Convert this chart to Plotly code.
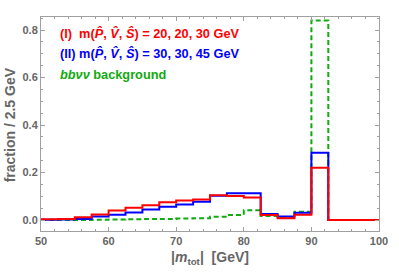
import plotly.graph_objects as go

# bin edges 50..100 in 2.5 GeV steps
bin_start = 50.0
bin_width = 2.5
n_bins = 20

red_I = [0.003, 0.005, 0.012, 0.023, 0.040, 0.052, 0.062, 0.075, 0.082, 0.087,
         0.104, 0.101, 0.095, 0.021, 0.008, 0.022, 0.220, 0.0, 0.0, 0.0]
blue_II = [0.001, 0.002, 0.004, 0.015, 0.022, 0.032, 0.044, 0.056, 0.066, 0.077,
           0.102, 0.113, 0.113, 0.026, 0.015, 0.031, 0.283, 0.0, 0.0, 0.0]
green_bkg = [0.0, 0.0, 0.0, 0.001, 0.002, 0.003, 0.004, 0.005, 0.007, 0.008,
             0.014, 0.021, 0.041, 0.017, 0.012, 0.035, 0.840, 0.0, 0.0, 0.0]

x_ticks = [50, 60, 70, 80, 90, 100]
y_ticks = [0.0, 0.2, 0.4, 0.6, 0.8]

edges = [bin_start + i * bin_width for i in range(n_bins + 1)]

def step(vals):
    return edges, list(vals) + [vals[-1]]

RED = "#FF0000"
BLUE = "#0000FF"
GREEN = "#11AA11"
GRAY = "#666666"
FONT = "Liberation Sans"

fig = go.Figure()
for vals, col, dash in [(green_bkg, GREEN, "5px,3px"), (blue_II, BLUE, "solid"), (red_I, RED, "solid")]:
    xs, ys = step(vals)
    fig.add_trace(go.Scatter(x=xs, y=ys, mode="lines", line=dict(color=col, width=2, dash=dash, shape="hv"),
                             showlegend=False, hoverinfo="skip"))

axis_common = dict(showgrid=False, zeroline=False, showline=True, linecolor="#A0A0A0", linewidth=1,
                   mirror="ticks", ticks="inside", tickcolor="#A0A0A0", ticklen=4, tickwidth=1,
                   tickfont=dict(family=FONT, size=11, color=GRAY, weight="bold"))

fig.update_xaxes(range=[50, 100], tickvals=x_ticks, ticktext=[str(v) for v in x_ticks],
                 minor=dict(dtick=2, ticks="inside", ticklen=2, tickcolor="#A0A0A0"), **axis_common)
fig.update_yaxes(range=[-0.046, 0.855], tickvals=y_ticks, ticktext=["%.1f" % v for v in y_ticks],
                 minor=dict(dtick=0.05, ticks="inside", ticklen=2, tickcolor="#A0A0A0"), **axis_common)

annots = [
    dict(x=0.05, y=33, text="(I)\u00a0\u00a0m(<i>P\u0302</i>, <i>V\u0302</i>, <i>S\u0302</i>) = 20, 20, 30 GeV", color=RED),
    dict(x=0.05, y=53, text="(II) m(<i>P\u0302</i>, <i>V\u0302</i>, <i>S\u0302</i>) = 30, 30, 45 GeV", color=BLUE),
    dict(x=0.05, y=74, text="<i>bb\u03bd\u03bd</i> background", color=GREEN),
]
for a in annots:
    fig.add_annotation(xref="paper", yref="paper", x=a["x"], y=1 - (a["y"] - 17) / 214.0,
                       xanchor="left", yanchor="middle", showarrow=False, text=a["text"],
                       font=dict(family=FONT, size=12.75, color=a["color"], weight="bold"))

fig.add_annotation(xref="paper", yref="paper", x=0.5, y=-(258 - 231) / 214.0, xanchor="center", yanchor="middle",
                   showarrow=False, text="|<i>m</i><sub>tot</sub>|\u00a0\u00a0[GeV]",
                   font=dict(family=FONT, size=14, color=GRAY, weight="bold"))
fig.add_annotation(xref="paper", yref="paper", x=-(41 - 9.5) / 347.0, y=1 - (125 - 17) / 214.0, xanchor="center",
                   yanchor="middle", textangle=-90, showarrow=False, text="fraction / 2.5 GeV",
                   font=dict(family=FONT, size=14, color=GRAY, weight="bold"))

fig.update_layout(width=399, height=272, margin=dict(l=41, r=11, t=17, b=41),
                  paper_bgcolor="white", plot_bgcolor="white")

fig.write_html("out.html", config={"displayModeBar": False},
               post_script="document.body.style.margin='0';")
